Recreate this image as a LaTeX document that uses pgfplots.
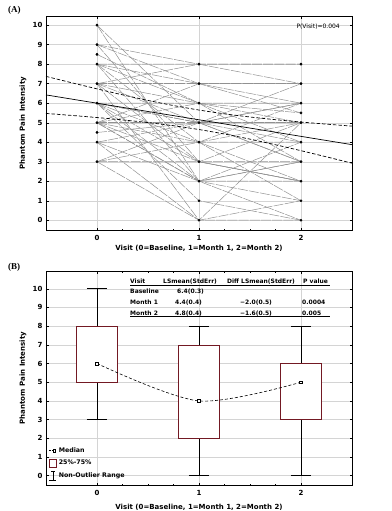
\documentclass[border=0pt]{standalone}
\usepackage{fontspec}
\setmainfont{DejaVu Sans}
\newfontfamily\serifbf{Liberation Serif}
\usepackage{pgfplots}
\pgfplotsset{compat=1.18}
\usepgfplotslibrary{statistics}
\definecolor{boxred}{RGB}{115,25,35}
\definecolor{gridgray}{RGB}{212,212,212}
\definecolor{patgray}{RGB}{145,145,145}
\newcommand{\fs}{\bfseries\fontsize{7}{8}\selectfont}
\pgfplotsset{
  common/.style={
    scale only axis, width=306pt, height=214pt,
    xmin=-0.5, xmax=2.5, ymin=-0.5,
    xtick={0,1,2}, ytick={0,1,...,10},
    minor x tick num=3,
    grid=major, major grid style={gridgray, line width=0.4pt},
    tick align=inside, major tick length=2.5pt, minor tick length=1.5pt,
    tick style={black, line width=0.4pt},
    axis line style={line width=0.6pt},
    /pgf/number format/assume math mode=true,
    ticklabel style={font=\fs},
    xticklabel style={yshift=-1.5pt},
    xlabel={Visit (0=Baseline, 1=Month 1, 2=Month 2)},
    ylabel={Phantom Pain Intensity},
    every axis y label/.style={at={(axis description cs:-0.075,0.5)}, rotate=90, anchor=center, font=\fs},
  },
  pat/.style={patgray, line width=0.5pt, dash pattern=on 10pt off 1.2pt, forget plot},
  bx/.style={boxplot/draw direction=y, forget plot, black, line width=0.6pt},
}
\begin{document}
\begin{tikzpicture}
% ---------------- Panel A ----------------
\begin{axis}[common, at={(46pt,-16pt)}, anchor=north west, ymax=10.47,
  every axis x label/.style={at={(axis description cs:0.5,-0.084)}, anchor=center, font=\fs}]
\addplot[pat] coordinates {(0,10)(1,2)(2,3)};
\addplot[pat] coordinates {(0,10)(1,5)(2,6)};
\addplot[pat] coordinates {(0,9)(1,8)(2,8)};
\addplot[pat] coordinates {(0,9)(1,7)(2,7)};
\addplot[pat] coordinates {(0,9)(1,3)(2,2)};
\addplot[pat] coordinates {(0,8.5)(1,6)(2,5)};
\addplot[pat] coordinates {(0,8)(1,8)(2,7)};
\addplot[pat] coordinates {(0,8)(1,7)(2,5.5)};
\addplot[pat] coordinates {(0,8)(1,4)(2,2)};
\addplot[pat] coordinates {(0,8)(1,2)(2,4)};
\addplot[pat] coordinates {(0,8)(1,6)(2,6)};
\addplot[pat] coordinates {(0,7)(1,7)(2,7)};
\addplot[pat] coordinates {(0,7)(1,8)(2,8)};
\addplot[pat] coordinates {(0,7)(1,5)(2,3)};
\addplot[pat] coordinates {(0,7)(1,3)(2,5)};
\addplot[pat] coordinates {(0,7)(1,0)(2,1)};
\addplot[pat] coordinates {(0,7)(1,6)(2,4)};
\addplot[pat] coordinates {(0,6)(1,5)(2,5)};
\addplot[pat] coordinates {(0,6)(1,4)(2,6)};
\addplot[pat] coordinates {(0,6)(1,2)(2,1)};
\addplot[pat] coordinates {(0,6)(1,6)(2,3)};
\addplot[pat] coordinates {(0,6)(1,1)(2,0)};
\addplot[pat] coordinates {(0,6)(1,3)(2,2)};
\addplot[pat] coordinates {(0,5)(1,5)(2,5)};
\addplot[pat] coordinates {(0,5)(1,7)(2,6)};
\addplot[pat] coordinates {(0,5)(1,4)(2,4)};
\addplot[pat] coordinates {(0,5)(1,2)(2,2)};
\addplot[pat] coordinates {(0,5)(1,3)(2,3)};
\addplot[pat] coordinates {(0,5)(1,6)(2,5.5)};
\addplot[pat] coordinates {(0,4.5)(1,5)(2,3)};
\addplot[pat] coordinates {(0,4)(1,4)(2,5)};
\addplot[pat] coordinates {(0,4)(1,2)(2,0)};
\addplot[pat] coordinates {(0,4)(1,5)(2,7)};
\addplot[pat] coordinates {(0,3)(1,3)(2,2)};
\addplot[pat] coordinates {(0,3)(1,5)(2,4)};
\addplot[pat] coordinates {(0,3)(1,0)(2,5)};
\addplot[pat] coordinates {(0,3)(1,4)(2,1)};
\addplot[pat] coordinates {(0,4)(1,0)(2,0)};
\addplot[pat] coordinates {(0,5)(1,2)(2,3)};
\addplot[pat] coordinates {(0,6)(1,5)(2,6)};
% points
\addplot[only marks, mark=*, mark size=1.2pt, black, forget plot] coordinates {
 (0,10)(0,9)(0,8.5)(0,8)(0,7)(0,6)(0,5)(0,4.5)(0,4)(0,3)
 (1,8)(1,7)(1,6)(1,5)(1,4)(1,3)(1,2)(1,1)(1,0)
 (2,8)(2,7)(2,6)(2,5.5)(2,5)(2,4)(2,3)(2,2)(2,1)(2,0)};
% regression and confidence band
\addplot[black, line width=0.7pt, forget plot] coordinates {(-0.5,6.425)(2.5,3.875)};
\addplot[black, line width=0.7pt, dash pattern=on 3.5pt off 2pt, forget plot, smooth] coordinates {
 (-0.5,7.375)(-0.25,7.051)(0,6.735)(0.25,6.430)(0.5,6.143)(0.75,5.880)(1,5.650)
 (1.25,5.455)(1.5,5.293)(1.75,5.155)(2,5.035)(2.25,4.926)(2.5,4.825)};
\addplot[black, line width=0.7pt, dash pattern=on 3.5pt off 2pt, forget plot, smooth] coordinates {
 (-0.5,5.475)(-0.25,5.374)(0,5.265)(0.25,5.145)(0.5,5.007)(0.75,4.845)(1,4.650)
 (1.25,4.420)(1.5,4.157)(1.75,3.870)(2,3.565)(2.25,3.249)(2.5,2.925)};
\end{axis}
% ---------------- Panel B ----------------
\begin{axis}[common, at={(46pt,-271pt)}, anchor=north west, ymax=10.95,
  every axis x label/.style={at={(axis description cs:0.5,-0.103)}, anchor=center, font=\fs},
  legend style={draw=none, fill=none, at={(0.005,0.012)}, anchor=south west,
    font=\bfseries\fontsize{6.3}{7}\selectfont, inner sep=1pt, row sep=2.5pt,
    /tikz/every even column/.append style={column sep=0pt}},
  legend cell align=left]
\addplot[bx, boxplot prepared={draw position=0,
  lower whisker=3, lower quartile=5, median=6, upper quartile=8, upper whisker=10,
  box extend=0.4, whisker extend=0.2,
  every box/.style={draw=boxred, fill=white, line width=0.6pt},
  every median/.style={draw=none}}] coordinates {};
\addplot[bx, boxplot prepared={draw position=1,
  lower whisker=0, lower quartile=2, median=4, upper quartile=7, upper whisker=8,
  box extend=0.4, whisker extend=0.2,
  every box/.style={draw=boxred, fill=white, line width=0.6pt},
  every median/.style={draw=none}}] coordinates {};
\addplot[bx, boxplot prepared={draw position=2,
  lower whisker=0, lower quartile=3, median=5, upper quartile=6, upper whisker=8,
  box extend=0.4, whisker extend=0.2,
  every box/.style={draw=boxred, fill=white, line width=0.6pt},
  every median/.style={draw=none}}] coordinates {};
\addplot[forget plot, black, line width=0.6pt, dash pattern=on 3pt off 2pt, smooth, tension=0.5,
  mark=square*, mark size=1.4pt, mark options={solid, fill=white, line width=0.5pt}]
  coordinates {(0,6)(1,4)(2,5)};
\addlegendimage{legend image code/.code={
  \draw[black, line width=0.5pt, dash pattern=on 2pt off 1pt] (0pt,0pt)--(4pt,0pt);
  \draw[black, line width=0.5pt, fill=white] (4pt,-1.3pt) rectangle (6.6pt,1.3pt);}}
\addlegendentry{Median}
\addlegendimage{legend image code/.code={
  \draw[boxred, fill=white, line width=0.6pt] (0.5pt,-3.5pt) rectangle (7.5pt,4.5pt);}}
\addlegendentry{25\%-75\%}
\addlegendimage{legend image code/.code={
  \draw[black, line width=0.5pt] (4pt,-4pt)--(4pt,4.5pt);
  \draw[black, line width=0.5pt] (0.5pt,-4pt)--(7.5pt,-4pt);
  \draw[black, line width=0.5pt] (2pt,4.5pt)--(6pt,4.5pt);}}
\addlegendentry{Non-Outlier Range}
\end{axis}
% ---------------- texts ----------------
\node[anchor=base west, inner sep=0pt, font=\serifbf\bfseries\fontsize{9}{10}\selectfont] at (8pt,-13pt) {(A)};
\node[anchor=base west, inner sep=0pt, font=\serifbf\bfseries\fontsize{9}{10}\selectfont] at (8pt,-269pt) {(B)};
\node[anchor=base east, inner sep=0pt, font=\fontsize{6}{7}\selectfont] at (340pt,-29pt) {P(Visit)=0.004};
\begin{scope}[every node/.style={anchor=base west, inner sep=0pt, font=\bfseries\fontsize{6}{7}\selectfont}]
\node at (130pt,-283pt) {Visit};
\node at (163pt,-283pt) {LSmean(StdErr)};
\node at (227pt,-283pt) {Diff LSmean(StdErr)};
\node at (303pt,-283pt) {P value};
\node at (130pt,-293.5pt) {Baseline};
\node at (177pt,-293.5pt) {6.4(0.3)};
\node at (130pt,-304.5pt) {Month 1};
\node at (175pt,-304.5pt) {4.4(0.4)};
\node at (240pt,-304.5pt) {−2.0(0.5)};
\node at (302pt,-304.5pt) {0.0004};
\node at (130pt,-315pt) {Month 2};
\node at (175pt,-315pt) {4.8(0.4)};
\node at (240pt,-315pt) {−1.6(0.5)};
\node at (302pt,-315pt) {0.005};
\end{scope}
\draw[black, line width=0.5pt] (130pt,-285.5pt) -- (330pt,-285.5pt);
\draw[black, line width=0.5pt] (130pt,-316.5pt) -- (330pt,-316.5pt);
\pgfresetboundingbox
\path[use as bounding box] (0pt,0pt) rectangle (391pt,-511pt);
\end{tikzpicture}
\end{document}
